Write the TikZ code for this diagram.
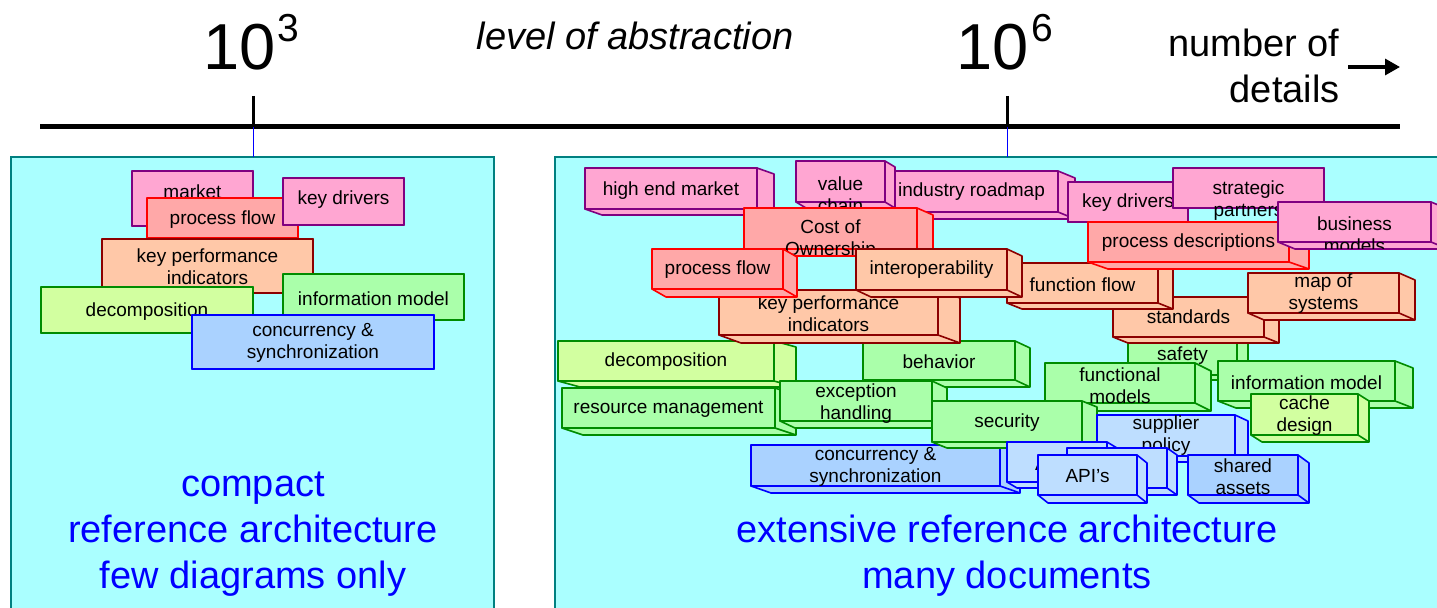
\documentclass[tikz,border=0pt]{standalone}
\usepackage{fontspec}
\setmainfont{Liberation Sans}
\usetikzlibrary{arrows.meta}
\definecolor{cpink}{RGB}{255,166,210}
\definecolor{cpurple}{RGB}{128,0,128}
\definecolor{csalmon}{RGB}{255,168,168}
\definecolor{cpeach}{RGB}{255,200,168}
\definecolor{cdred}{RGB}{140,0,0}
\definecolor{cgreen}{RGB}{170,255,170}
\definecolor{cdgreen}{RGB}{0,140,0}
\definecolor{cyg}{RGB}{210,255,160}
\definecolor{cblue}{RGB}{170,210,255}
\definecolor{cbluelt}{RGB}{190,222,255}
\definecolor{cpanel}{RGB}{170,255,255}
\definecolor{cteal}{RGB}{0,128,128}
\definecolor{cpaneltext}{RGB}{0,0,255}
\def\cliphang{0}
% #1 x1, #2 y1, #3 x2, #4 y2, #5 depth "dx,dy", #6 style, #7 name, #8 text y, #9 text
\newcommand\cube[9]{%
  \filldraw[#6] (#3,#2) -- ++(#5) -- ++(0,#4-#2) -- ++(#1-#3,0) -- (#1,#4) -- (#3,#4) -- cycle;
  \draw[#6] (#3,#4) -- ++(#5);
  \filldraw[#6] (#1,#2) rectangle (#3,#4);
  \begin{scope}
    \clip (#1,#2) rectangle ([shift={(#5)}]#3,#4+\cliphang);
    \node[lbl] (#7) at ({(#1+#3)/2},#8) {#9};
  \end{scope}}
\tikzset{
  lbl/.style={font=\fontsize{9.5}{11}\selectfont, align=center, inner sep=0pt, text=black, yshift=-0.8pt},
  bxbase/.style={line width=0.8pt, line join=round},
  bxpink/.style={bxbase, fill=cpink, draw=cpurple},
  bxsalmon/.style={bxbase, fill=csalmon, draw=red},
  bxpeach/.style={bxbase, fill=cpeach, draw=cdred},
  bxgreen/.style={bxbase, fill=cgreen, draw=cdgreen},
  bxyg/.style={bxbase, fill=cyg, draw=cdgreen},
  bxblue/.style={bxbase, fill=cblue, draw=blue},
  bxbluelt/.style={bxbase, fill=cbluelt, draw=blue},
  panel/.style={fill=cpanel, draw=cteal, line width=0.6pt},
  paneltext/.style={font=\fontsize{19}{23}\selectfont, text=cpaneltext, align=center, inner sep=0pt, anchor=base},
  bigtext/.style={font=\fontsize{19}{23}\selectfont, inner sep=0pt},
  power/.style={font=\fontsize{32.5}{38}\selectfont, inner sep=0pt, anchor=base west},
  expo/.style={font=\fontsize{19.5}{23}\selectfont, inner sep=0pt, anchor=base west},
  axisline/.style={line width=2.5pt},
  tickline/.style={line width=1.5pt},
  bluelink/.style={blue, line width=0.5pt}
}
\begin{document}
\begin{tikzpicture}[x=0.5pt,y=-0.5pt]
\useasboundingbox (0,0) rectangle (1437,608);
\clip (0,0) rectangle (1437,608);

% panels
\filldraw[panel] (11,157) rectangle (494,625);
\filldraw[panel] (555,157) rectangle (1460,625);

% axis
\coordinate (axL) at (40,127);
\coordinate (axR) at (1400,127);
\coordinate (tA) at (253,96);
\coordinate (tAb) at (253,127);
\coordinate (tAp) at (253,157);
\coordinate (tB) at (1007,96);
\coordinate (tBb) at (1007,127);
\coordinate (tBp) at (1007,157);
\draw[axisline] (axL) -- (axR);
\draw[tickline] (tA) -- (tAb);
\draw[tickline] (tB) -- (tBb);
\draw[bluelink] (tAb) -- (tAp);
\draw[bluelink] (tBb) -- (tBp);

% top labels
\node[power] (ten3) at (203,70) {10};
\node[expo] (exp3) at (277,42) {3};
\node[power] (ten6) at (956,70) {10};
\node[expo] (exp6) at (1031,42) {6};
\node[bigtext, anchor=base, font=\fontsize{19}{23}\selectfont\itshape] (loa) at (635,50) {level of abstraction};
\node[bigtext, anchor=base east] (nof) at (1340,57) {number of};
\node[bigtext, anchor=base east] (det) at (1340,103) {details};
\coordinate (arS) at (1348,67);
\coordinate (arE) at (1400,67);
\draw[line width=1.6pt, -{Triangle[length=7.5pt,width=8pt]}] (arS) -- (arE);

% left panel boxes (flat)
\cube{132}{171}{253}{226}{0,0}{bxpink,line width=1pt}{lmarket}{190}{market}
\cube{147}{198}{298}{238}{0,0}{bxsalmon,line width=1pt}{lpflow}{218}{process flow}
\cube{283}{178}{404}{225}{0,0}{bxpink,line width=1pt}{lkd}{198}{key drivers}
\cube{102}{239}{313}{293}{0,0}{bxpeach,line width=1pt}{lkpi}{265}{key performance\\indicators}
\cube{41}{287}{253}{333}{0,0}{bxyg,line width=1pt}{ldec}{310}{decomposition}
\cube{283}{274}{464}{320}{0,0}{bxgreen,line width=1pt}{lim}{297}{information model}
\cube{192}{315}{434}{369}{0,0}{bxblue,line width=1pt}{lconc}{341}{concurrency \&\\synchronization}

% right panel boxes (3D)
\cube{585}{168}{757}{209}{17,6}{bxpink}{rhem}{188.5}{high end market}
\cube{885}{171}{1058}{212}{17,7}{bxpink}{rir}{190}{industry roadmap}
\cube{796}{161}{885}{202}{10,6}{bxpink}{rvc}{193}{value\\chain}
\cube{1068}{182}{1188}{222}{0,0}{bxpink}{rkd}{201}{key drivers}
\def\cliphang{16}
\cube{1173}{168}{1324}{208}{0,0}{bxpink}{rsp}{199}{strategic\\partners}
\def\cliphang{0}
\cube{744}{208}{917}{249}{16,7}{bxsalmon}{rcoo}{238.5}{Cost of\\Ownership}
\cube{1128}{335}{1237}{375}{11,5}{bxgreen}{rsafe}{354}{safety}
\cube{1113}{297}{1264}{337}{15,6}{bxpeach}{rstd}{315}{standards}
\cube{1007}{263}{1158}{303}{15,6}{bxpeach}{rff}{283}{function flow}
\cube{1088}{222}{1289}{262}{20,7}{bxsalmon}{rpd}{241}{process descriptions}
\cube{1278}{202}{1431}{242}{17,7}{bxpink}{rbm}{233.5}{business\\models}
\cube{1248}{273}{1399}{313}{16,7}{bxpeach}{rmos}{292}{map of\\systems}
\cube{558}{341}{774}{381}{22,6}{bxyg}{rdec}{360}{decomposition}
\cube{863}{341}{1015}{380}{15,7}{bxgreen}{rbeh}{360}{behavior}
\cube{719}{290}{938}{335}{22,8}{bxpeach}{rkpi}{312.5}{key performance\\indicators}
\cube{652}{249}{783}{289}{14,8}{bxsalmon}{rpf}{268}{process flow}
\cube{856}{249}{1007}{290}{15,7}{bxpeach}{rio}{268}{interoperability}
\cube{562}{388}{775}{428}{21,7}{bxgreen}{rrm}{408}{resource management}
\cube{780}{381}{932}{421}{15,7}{bxgreen}{reh}{401.5}{exception\\handling}
\cube{1045}{363}{1195}{403}{16,8}{bxgreen}{rfm}{384.5}{functional\\models}
\cube{1218}{361}{1395}{401}{18,7}{bxgreen}{rim}{381}{information model}
\cube{1251}{394}{1358}{435}{11,7}{bxyg}{rcd}{414}{cache\\design}
\cube{751}{445}{1000}{486}{20,7}{bxblue}{rconc}{465}{concurrency \&\\synchronization}
\cube{932}{401}{1082}{442}{15,6}{bxgreen}{rsec}{421}{security}
\cube{1097}{415}{1235}{456}{13,6}{bxbluelt}{rsup}{434}{supplier\\policy}
\cube{1007}{442}{1107}{482}{10,6}{bxbluelt}{rapia}{462}{API's}
\cube{1067}{448}{1167}{488}{10,7}{bxbluelt}{rapib}{468}{}
\cube{1038}{455}{1137}{495}{10,8}{bxbluelt}{rapic}{474}{API's}
\cube{1188}{455}{1298}{495}{11,8}{bxblue}{rsa}{475}{shared\\assets}

% panel captions (base anchor = last line baseline)
\node[paneltext] (capL) at (253,589) {compact\\reference architecture\\few diagrams only};
\node[paneltext] (capR) at (1007,589) {extensive reference architecture\\many documents};
\end{tikzpicture}
\end{document}
